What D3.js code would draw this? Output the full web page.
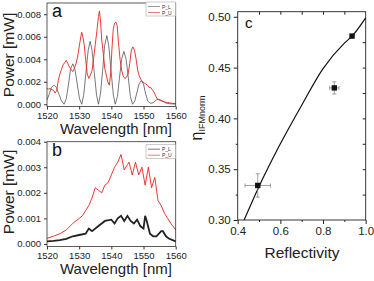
<!DOCTYPE html>
<html>
<head>
<meta charset="utf-8">
<script src="https://cdn.jsdelivr.net/npm/d3@7"></script>
<style>
  body { margin: 0; background: #fff; }
  svg { display: block; font-family: "Liberation Sans", Arial, sans-serif; }
</style>
</head>
<body>
<svg id="chart" width="374" height="281"></svg>
<script>
// panel a : fringes, P_L (black) and P_U (red)
var aLx = [1520,1520.7,1521.4,1522.2,1522.9,1523.7,1524.5,1525.3,
  1526,1526.7,1527.3,1528,1528.7,1529.4,1530.1,1530.8,
  1531.4,1532.1,1532.8,1533.4,1534,1534.7,1535.4,1536,
  1536.6,1537.3,1537.9,1538.6,1539.2,1539.9,1540.6,1541.2,
  1541.9,1542.5,1543.2,1543.9,1544.6,1545.3,1545.9,1546.6,
  1547.3,1547.9,1548.6,1549.3,1550,1550.6,1551.3,1552,
  1552.6,1553.3,1554,1554.6,1555.2,1555.9,1556.5,1557,1558,1559,1560];
var aLy = [0.0004,0.0009,0.0015,0.0017,0.0015,0.0009,0.0003,0.0000,
  0.0005,0.0018,0.0031,0.0036,0.0031,0.0018,0.0005,0.0000,
  0.0008,0.0028,0.0048,0.0056,0.0048,0.0028,0.0008,0.0000,
  0.0009,0.0030,0.0052,0.0061,0.0052,0.0030,0.0009,0.0000,
  0.0007,0.0023,0.0040,0.0047,0.0040,0.0023,0.0007,0.0000,
  0.0003,0.0010,0.0018,0.0021,0.0018,0.0010,0.0003,0.0001,
  0.0001,0.0002,0.0004,0.00045,0.0004,0.0003,0.0002,0.0001,0.00005,0.00003,0.00002];
var aUx = [1520,1520.5,1521,1521.5,1522,1522.5,1523,1523.5,1524,1524.5,1525,1525.5,1526,1526.5,
  1527,1527.5,1528,1528.5,1529,1529.5,1530,1530.5,1530.8,1531.2,1531.6,1532,1532.5,1533,
  1533.5,1534,1534.5,1535,1535.5,1536,1536.3,1536.6,1537,1537.5,1538,1538.5,1539,1539.4,
  1539.8,1540.2,1540.6,1541,1541.4,1541.8,1542.2,1542.7,1543.2,1543.7,1544.2,1544.7,1545.2,
  1545.7,1546.2,1546.7,1547.2,1547.7,1548.2,1548.7,1549.2,1549.7,1550.2,1550.7,1551.2,
  1551.7,1552.2,1552.7,1553.2,1553.7,1554.2,1554.7,1555.5,1556.5,1557.5,1558.5,1560];
var aUy = [0.0014,0.00135,0.0014,0.0013,0.00125,0.0010,0.0012,0.0021,0.0027,0.0031,0.0035,0.0037,0.0039,0.0036,
  0.0033,0.0031,0.0029,0.0032,0.0036,0.0042,0.0051,0.0060,0.0064,0.0059,0.0052,0.0040,0.0027,0.0023,
  0.0026,0.0030,0.0041,0.0053,0.0065,0.0078,0.0083,0.0075,0.0058,0.0045,0.0031,0.0025,0.0019,0.0017,
  0.0028,0.0050,0.0067,0.0072,0.0073,0.0070,0.0055,0.0040,0.0030,0.0025,0.0023,0.0024,0.0027,
  0.0036,0.0048,0.0051,0.0048,0.0040,0.0030,0.0025,0.0022,0.0020,0.0019,0.0018,0.0017,
  0.0015,0.0015,0.0013,0.0011,0.0008,0.0005,0.0004,0.0003,0.0002,0.00015,0.0001,0.00005];

// panel b : P_L (black) and P_U (red)
var bLx = [1520,1522,1524,1526,1528,1530,1532,1533,1534,1536,1538,1540,1541,1542,1543,1544,1545,
  1546,1547,1548,1549,1550,1550.5,1551,1552,1553,1554,1555.5,1556,1557,1558,1560];
var bLy = [0.0001,0.00012,0.00015,0.0002,0.0003,0.00035,0.0004,0.0006,0.0005,0.0007,0.0009,0.00095,0.0008,0.001,0.0011,0.0009,0.0011,
  0.0009,0.0008,0.00095,0.0007,0.0006,0.0011,0.0009,0.0004,0.0003,0.0003,0.0005,0.0005,0.0003,0.0002,0.0001];
var bUx = [1520,1522,1524,1526,1528,1530,1531,1532,1533,1534,1535,1536,1537,1538,1539,1540,1541,1542,1543,
  1544,1545,1545.5,1546.5,1547.5,1548.5,1549.5,1550.5,1551.5,1552.5,1553.5,1554.5,1555.5,1556.5,1557.5,1558.5,1560];
var bUy = [0.00022,0.0003,0.0004,0.00055,0.0008,0.001,0.0011,0.0013,0.0015,0.0018,0.0022,0.0021,0.0020,0.0023,0.0024,0.0027,0.0030,0.0032,0.0035,
  0.0029,0.0031,0.0032,0.0027,0.0032,0.0027,0.0030,0.0023,0.0030,0.0022,0.0026,0.0017,0.0015,0.0012,0.0010,0.0008,0.00055];

// panel c : measured points and model curve
var cPts = [{r:0.494, e:0.334, dr:0.06, de:0.0115},
            {r:0.853, e:0.430, dr:0.022, de:0.006},
            {r:0.936, e:0.481, dr:0, de:0}];
var fitR = [0.43,0.5,0.6,0.7,0.8,0.9,0.936,1.0];
var fitE = [0.300,0.333,0.375,0.413,0.449,0.474,0.481,0.499];

var ticksA = [0,0.002,0.004,0.006,0.008];
var ticksB = [0,0.001,0.002,0.003,0.004];
var ticksW = [1520,1530,1540,1550,1560];
var ticksR = [0.4,0.6,0.8,1.0];
var ticksE = [0.30,0.35,0.40,0.45,0.50];

var svg = d3.select("#chart");
var red = "#e8231f";

var zip = function(xs, ys) { return xs.map(function(x, i) { return [x, ys[i]]; }); };

var drawSpectrum = function(o) {
  var x = d3.scaleLinear().domain([1520,1560]).range([47,175.7]);
  var y = d3.scaleLinear().domain(o.ydom).range(o.yrange);
  var g = svg.append("g");

  var line = d3.line().x(function(d){ return x(d[0]); }).y(function(d){ return y(d[1]); });
  g.append("path").datum(zip(o.Lx, o.Ly)).attr("d", line)
    .attr("fill","none").attr("stroke", o.lcol).attr("stroke-width", o.lw);
  g.append("path").datum(zip(o.Ux, o.Uy)).attr("d", line)
    .attr("fill","none").attr("stroke", red).attr("stroke-width", 0.9);

  // frame
  g.append("rect").attr("x", 47).attr("y", o.yrange[1]).attr("width", 128.7)
    .attr("height", o.yrange[0]-o.yrange[1]).attr("fill","none").attr("stroke","#333").attr("stroke-width",0.8);

  var ax = g.append("g").attr("transform","translate(0,"+o.yrange[0]+")")
    .call(d3.axisBottom(x).tickValues(ticksW).tickSize(3).tickFormat(d3.format("d")));
  var ay = g.append("g").attr("transform","translate(47,0)")
    .call(d3.axisLeft(y).tickValues(o.yt).tickSize(3).tickFormat(d3.format(".3f")));
  [ax, ay].forEach(function(a) {
    a.select(".domain").remove();
    a.selectAll("line").attr("stroke","#333");
    a.selectAll("text").attr("font-size", 9.5).attr("fill","#222")
      .attr("font-family","'Liberation Sans', Arial, sans-serif");
  });

  g.append("text").attr("x", 116).attr("y", o.xlab).attr("text-anchor","middle")
    .attr("font-size", 15).attr("fill","#222").text("Wavelength [nm]");
  g.append("text").attr("transform","translate(14,"+o.ylabc+") rotate(-90)")
    .attr("text-anchor","middle").attr("font-size", 15.5).attr("fill","#222").text("Power [mW]");
  g.append("text").attr("x", 52).attr("y", o.yrange[1]+14).attr("font-size", 18)
    .attr("fill","#111").text(o.tag);

  // legend
  var lg = g.append("g").attr("transform","translate(146,"+(o.yrange[1]+o.legdy)+")");
  lg.append("rect").attr("width", 29.5).attr("height", 14).attr("fill","#fff").attr("stroke","#aaa").attr("stroke-width",0.6);
  [["P_L", o.lcol],["P_U", red]].forEach(function(d, i) {
    lg.append("line").attr("x1", 2).attr("x2", 14).attr("y1", 4.5+i*6).attr("y2", 4.5+i*6)
      .attr("stroke", d[1]).attr("stroke-width", 0.6);
    lg.append("text").attr("x", 16).attr("y", 6.5+i*6).attr("font-size", 5).attr("fill","#333").text(d[0]);
  });
};

drawSpectrum({Lx:aLx, Ly:aLy, Ux:aUx, Uy:aUy, ydom:[-0.0002,0.009], yrange:[106.5,3], yt:ticksA,
  lcol:"#555", lw:0.8, xlab:134, ylabc:55, tag:"a", legdy:-1});
drawSpectrum({Lx:bLx, Ly:bLy, Ux:bUx, Uy:bUy, ydom:[-0.0001,0.004], yrange:[246.5,141.7], yt:ticksB,
  lcol:"#222", lw:1.8, xlab:274, ylabc:192, tag:"b", legdy:3});

// panel c
var xc = d3.scaleLinear().domain([0.4,1.0]).range([237.7,365.7]);
var yc = d3.scaleLinear().domain([0.3,0.505]).range([220,11.7]);
var gc = svg.append("g");

gc.append("rect").attr("x",237.7).attr("y",11.7).attr("width",128).attr("height",208.3)
  .attr("fill","none").attr("stroke","#222").attr("stroke-width",0.9);

var axc = gc.append("g").attr("transform","translate(0,220)")
  .call(d3.axisBottom(xc).tickValues(ticksR).tickSize(4).tickFormat(d3.format(".1f")));
var ayc = gc.append("g").attr("transform","translate(237.7,0)")
  .call(d3.axisLeft(yc).tickValues(ticksE).tickSize(4).tickFormat(d3.format(".2f")));
var minx = gc.append("g").attr("transform","translate(0,220)")
  .call(d3.axisBottom(xc).tickValues([0.5,0.7,0.9]).tickSize(2).tickFormat(""));
var miny = gc.append("g").attr("transform","translate(237.7,0)")
  .call(d3.axisLeft(yc).tickValues([0.325,0.375,0.425,0.475]).tickSize(2).tickFormat(""));
var topx = gc.append("g").attr("transform","translate(0,11.7)")
  .call(d3.axisTop(xc).tickValues([0.5,0.6,0.7,0.8,0.9]).tickSize(-3).tickFormat(""));
var rgty = gc.append("g").attr("transform","translate(365.7,0)")
  .call(d3.axisRight(yc).tickValues([0.325,0.35,0.375,0.4,0.425,0.45,0.475]).tickSize(-3).tickFormat(""));
[axc, ayc, minx, miny, topx, rgty].forEach(function(a) {
  a.select(".domain").remove();
  a.selectAll("line").attr("stroke","#222");
  a.selectAll("text").attr("font-size", 11.5).attr("fill","#222")
    .attr("font-family","'Liberation Sans', Arial, sans-serif");
});

gc.append("path").datum(zip(fitR, fitE))
  .attr("d", d3.line().curve(d3.curveMonotoneX).x(function(d){ return xc(d[0]); }).y(function(d){ return yc(d[1]); }))
  .attr("fill","none").attr("stroke","#111").attr("stroke-width",1.2);

var eb = gc.selectAll(".err").data(cPts.filter(function(d){ return d.dr > 0; })).enter().append("g");
eb.append("line").attr("x1", function(d){ return xc(d.r-d.dr); }).attr("x2", function(d){ return xc(d.r+d.dr); })
  .attr("y1", function(d){ return yc(d.e); }).attr("y2", function(d){ return yc(d.e); });
eb.append("line").attr("x1", function(d){ return xc(d.r); }).attr("x2", function(d){ return xc(d.r); })
  .attr("y1", function(d){ return yc(d.e-d.de); }).attr("y2", function(d){ return yc(d.e+d.de); });
eb.append("line").attr("x1", function(d){ return xc(d.r)-2; }).attr("x2", function(d){ return xc(d.r)+2; })
  .attr("y1", function(d){ return yc(d.e-d.de); }).attr("y2", function(d){ return yc(d.e-d.de); });
eb.append("line").attr("x1", function(d){ return xc(d.r)-2; }).attr("x2", function(d){ return xc(d.r)+2; })
  .attr("y1", function(d){ return yc(d.e+d.de); }).attr("y2", function(d){ return yc(d.e+d.de); });
eb.append("line").attr("x1", function(d){ return xc(d.r-d.dr); }).attr("x2", function(d){ return xc(d.r-d.dr); })
  .attr("y1", function(d){ return yc(d.e)-2; }).attr("y2", function(d){ return yc(d.e)+2; });
eb.append("line").attr("x1", function(d){ return xc(d.r+d.dr); }).attr("x2", function(d){ return xc(d.r+d.dr); })
  .attr("y1", function(d){ return yc(d.e)-2; }).attr("y2", function(d){ return yc(d.e)+2; });
eb.selectAll("line").attr("stroke","#888").attr("stroke-width",0.8);

gc.selectAll(".pt").data(cPts).enter().append("rect")
  .attr("x", function(d){ return xc(d.r)-2.7; }).attr("y", function(d){ return yc(d.e)-2.7; })
  .attr("width", 5.4).attr("height", 5.4).attr("fill","#111");

gc.append("text").attr("x", 245).attr("y", 28).attr("font-size", 15).attr("fill","#111").text("c");
gc.append("text").attr("x", 302).attr("y", 258).attr("text-anchor","middle")
  .attr("font-size", 15.5).attr("fill","#222").text("Reflectivity");

var yl = gc.append("text").attr("transform","translate(202,118) rotate(-90)")
  .attr("text-anchor","middle").attr("fill","#222");
yl.append("tspan").attr("font-size", 16).text("η");
yl.append("tspan").attr("font-size", 9).attr("dy", 3).text("IFMnorm");
</script>
</body>
</html>
